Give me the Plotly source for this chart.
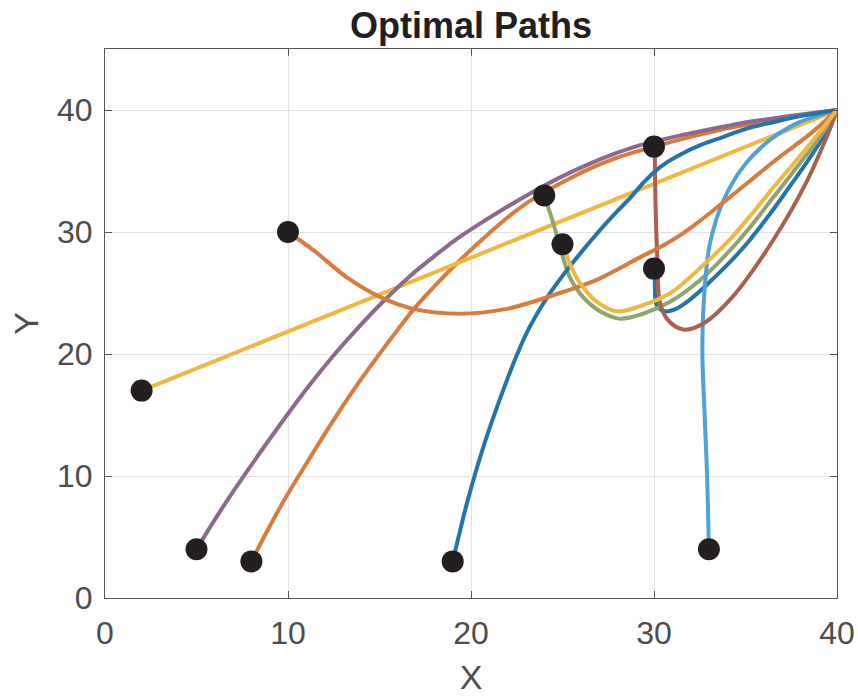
import plotly.graph_objects as go

# Start points (black dots)
start_x = [2, 5, 8, 10, 19, 24, 25, 30, 30, 33]
start_y = [17, 4, 3, 30, 3, 33, 29, 37, 27, 4]

# Path data (each ends at the goal 40,40)
p_blue_a_x = [30.05, 30.05, 30.15, 30.6, 31.2, 32.0, 32.9, 34.0, 35.1, 36.3, 37.4, 38.3, 39.25, 40.0]
p_blue_a_y = [27.0, 25.5, 24.0, 23.5, 23.7, 24.5, 25.7, 27.3, 29.1, 31.4, 33.7, 35.6, 37.8, 40.0]

p_orange_a_x = [8.0, 8.9, 9.9, 11.2, 12.5, 13.7, 14.9, 16.0, 17.0, 18.1, 19.2, 20.4, 21.6, 22.6, 23.6, 24.9, 26.5, 28.0, 30.0, 32.0, 34.0, 36.0, 38.0, 40.0]
p_orange_a_y = [3.0, 5.6, 8.3, 11.5, 14.6, 17.3, 19.8, 22.0, 23.9, 25.7, 27.4, 29.1, 30.7, 31.9, 32.9, 34.0, 35.2, 36.1, 37.0, 37.8, 38.5, 39.05, 39.55, 40.0]

p_yellow_a_x = [2.0, 40.0]
p_yellow_a_y = [17.0, 40.0]

p_purple_x = [5.0, 6.2, 7.4, 8.7, 9.9, 11.2, 12.5, 13.8, 15.2, 16.6, 17.9, 19.1, 20.3, 21.8, 23.4, 24.9, 26.5, 28.0, 29.2, 31.4, 33.0, 34.7, 36.0, 37.4, 38.7, 40.0]
p_purple_y = [4.0, 6.9, 9.6, 12.4, 14.9, 17.5, 19.9, 22.1, 24.3, 26.3, 27.9, 29.3, 30.5, 31.9, 33.3, 34.5, 35.6, 36.5, 37.1, 37.9, 38.4, 38.9, 39.2, 39.5, 39.75, 40.0]

p_green_x = [24.0, 24.5, 24.95, 25.4, 26.1, 27.05, 28.1, 29.4, 30.9, 32.7, 34.15, 35.3, 36.5, 37.8, 39.07, 40.0]
p_green_y = [33.0, 30.7, 28.3, 26.3, 24.7, 23.5, 22.9, 23.3, 24.3, 26.3, 28.5, 30.5, 32.8, 35.3, 37.8, 40.0]

p_lightblue_x = [33.0, 32.9, 32.75, 32.65, 32.65, 32.75, 33.05, 33.8, 34.9, 36.3, 37.8, 39.07, 40.0]
p_lightblue_y = [4.0, 10.0, 15.6, 19.5, 21.5, 25.0, 29.0, 32.6, 35.4, 37.5, 38.9, 39.6, 40.0]

p_brown_x = [30.05, 30.05, 30.1, 30.2, 30.3, 30.7, 31.6, 32.7, 34.3, 36.5, 38.3, 39.6, 40.0]
p_brown_y = [37.0, 35.4, 31.3, 27.2, 24.4, 22.9, 22.0, 22.5, 24.7, 29.3, 34.0, 38.4, 40.0]

p_blue_b_x = [19.0, 19.4, 19.8, 20.7, 21.8, 22.5, 23.2, 24.1, 25.0, 26.0, 26.9, 27.8, 28.7, 29.4, 30.0, 30.7, 31.5, 32.5, 33.8, 35.1, 36.5, 38.0, 39.0, 40.0]
p_blue_b_y = [3.0, 5.5, 7.9, 12.5, 17.2, 19.9, 22.2, 24.5, 26.4, 28.3, 29.9, 31.4, 32.8, 34.0, 34.9, 35.7, 36.4, 37.1, 37.8, 38.5, 39.0, 39.5, 39.75, 40.0]

p_orange_b_x = [10.0, 11.4, 13.2, 15.0, 16.85, 19.4, 21.95, 23.2, 24.86, 26.9, 29.2, 30.5, 31.5, 32.5, 33.6, 34.6, 35.5, 36.9, 38.5, 40.0]
p_orange_b_y = [30.0, 28.5, 26.3, 24.7, 23.7, 23.3, 23.7, 24.2, 25.0, 26.1, 27.9, 28.9, 29.8, 30.9, 32.2, 33.4, 34.5, 36.2, 38.0, 40.0]

p_yellow_b_x = [25.04, 25.4, 25.96, 26.87, 27.96, 29.2, 30.9, 32.7, 34.15, 35.3, 36.5, 37.8, 39.0, 40.0]
p_yellow_b_y = [29.0, 27.4, 25.8, 24.3, 23.5, 23.9, 25.0, 27.3, 29.4, 31.4, 33.6, 35.9, 38.1, 40.0]

paths = [
    (p_blue_a_x, p_blue_a_y, "#2474a8"),
    (p_orange_a_x, p_orange_a_y, "#d87b3e"),
    (p_yellow_a_x, p_yellow_a_y, "#efb843"),
    (p_purple_x, p_purple_y, "#8b6a8c"),
    (p_green_x, p_green_y, "#8ea56e"),
    (p_lightblue_x, p_lightblue_y, "#4ea2d5"),
    (p_brown_x, p_brown_y, "#a8604f"),
    (p_blue_b_x, p_blue_b_y, "#2474a8"),
    (p_orange_b_x, p_orange_b_y, "#d87b3e"),
    (p_yellow_b_x, p_yellow_b_y, "#efb843"),
]

fig = go.Figure()
for px, py, col in paths:
    fig.add_trace(go.Scatter(x=px, y=py, mode="lines",
                             line=dict(color=col, width=4, shape="spline", smoothing=1),
                             showlegend=False, hoverinfo="skip"))

fig.add_trace(go.Scatter(x=start_x, y=start_y, mode="markers",
                         marker=dict(color="#231f20", size=22),
                         showlegend=False))

font_family = "Liberation Sans, Arial, sans-serif"
axis_common = dict(
    showgrid=True, gridcolor="#e3e3e3", gridwidth=1,
    zeroline=False, showline=True, linecolor="#555555", linewidth=1,
    mirror="ticks", ticks="inside", ticklen=7, tickcolor="#555555",
    tickfont=dict(family=font_family, size=32, color="#4d4d4d"),
)

fig.update_layout(
    width=858, height=698,
    margin=dict(l=105, r=21, t=49, b=100, autoexpand=False),
    paper_bgcolor="white", plot_bgcolor="white",
    title=dict(text="<b>Optimal Paths</b>", xref="paper", x=0.5, xanchor="center",
               y=1 - 25 / 698, yanchor="middle",
               font=dict(family=font_family, size=36, color="#231f20")),
    xaxis=dict(range=[0, 40], tickvals=[0, 10, 20, 30, 40], ticklabelstandoff=7,
               title=dict(text="X", standoff=14,
                          font=dict(family=font_family, size=34, color="#4d4d4d")),
               **axis_common),
    yaxis=dict(range=[0, 45], tickvals=[0, 10, 20, 30, 40], ticklabelstandoff=5,
               title=dict(text="Y", standoff=8,
                          font=dict(family=font_family, size=34, color="#4d4d4d")),
               **axis_common),
)

# Remove the default page margin and scrollbars so the figure fills the window exactly.
page_css = ("document.documentElement.style.margin='0';"
            "document.body.style.margin='0';"
            "document.documentElement.style.overflow='hidden';"
            "document.body.style.overflow='hidden';")

fig.write_html("out.html", post_script=page_css, config={"displayModeBar": False})
